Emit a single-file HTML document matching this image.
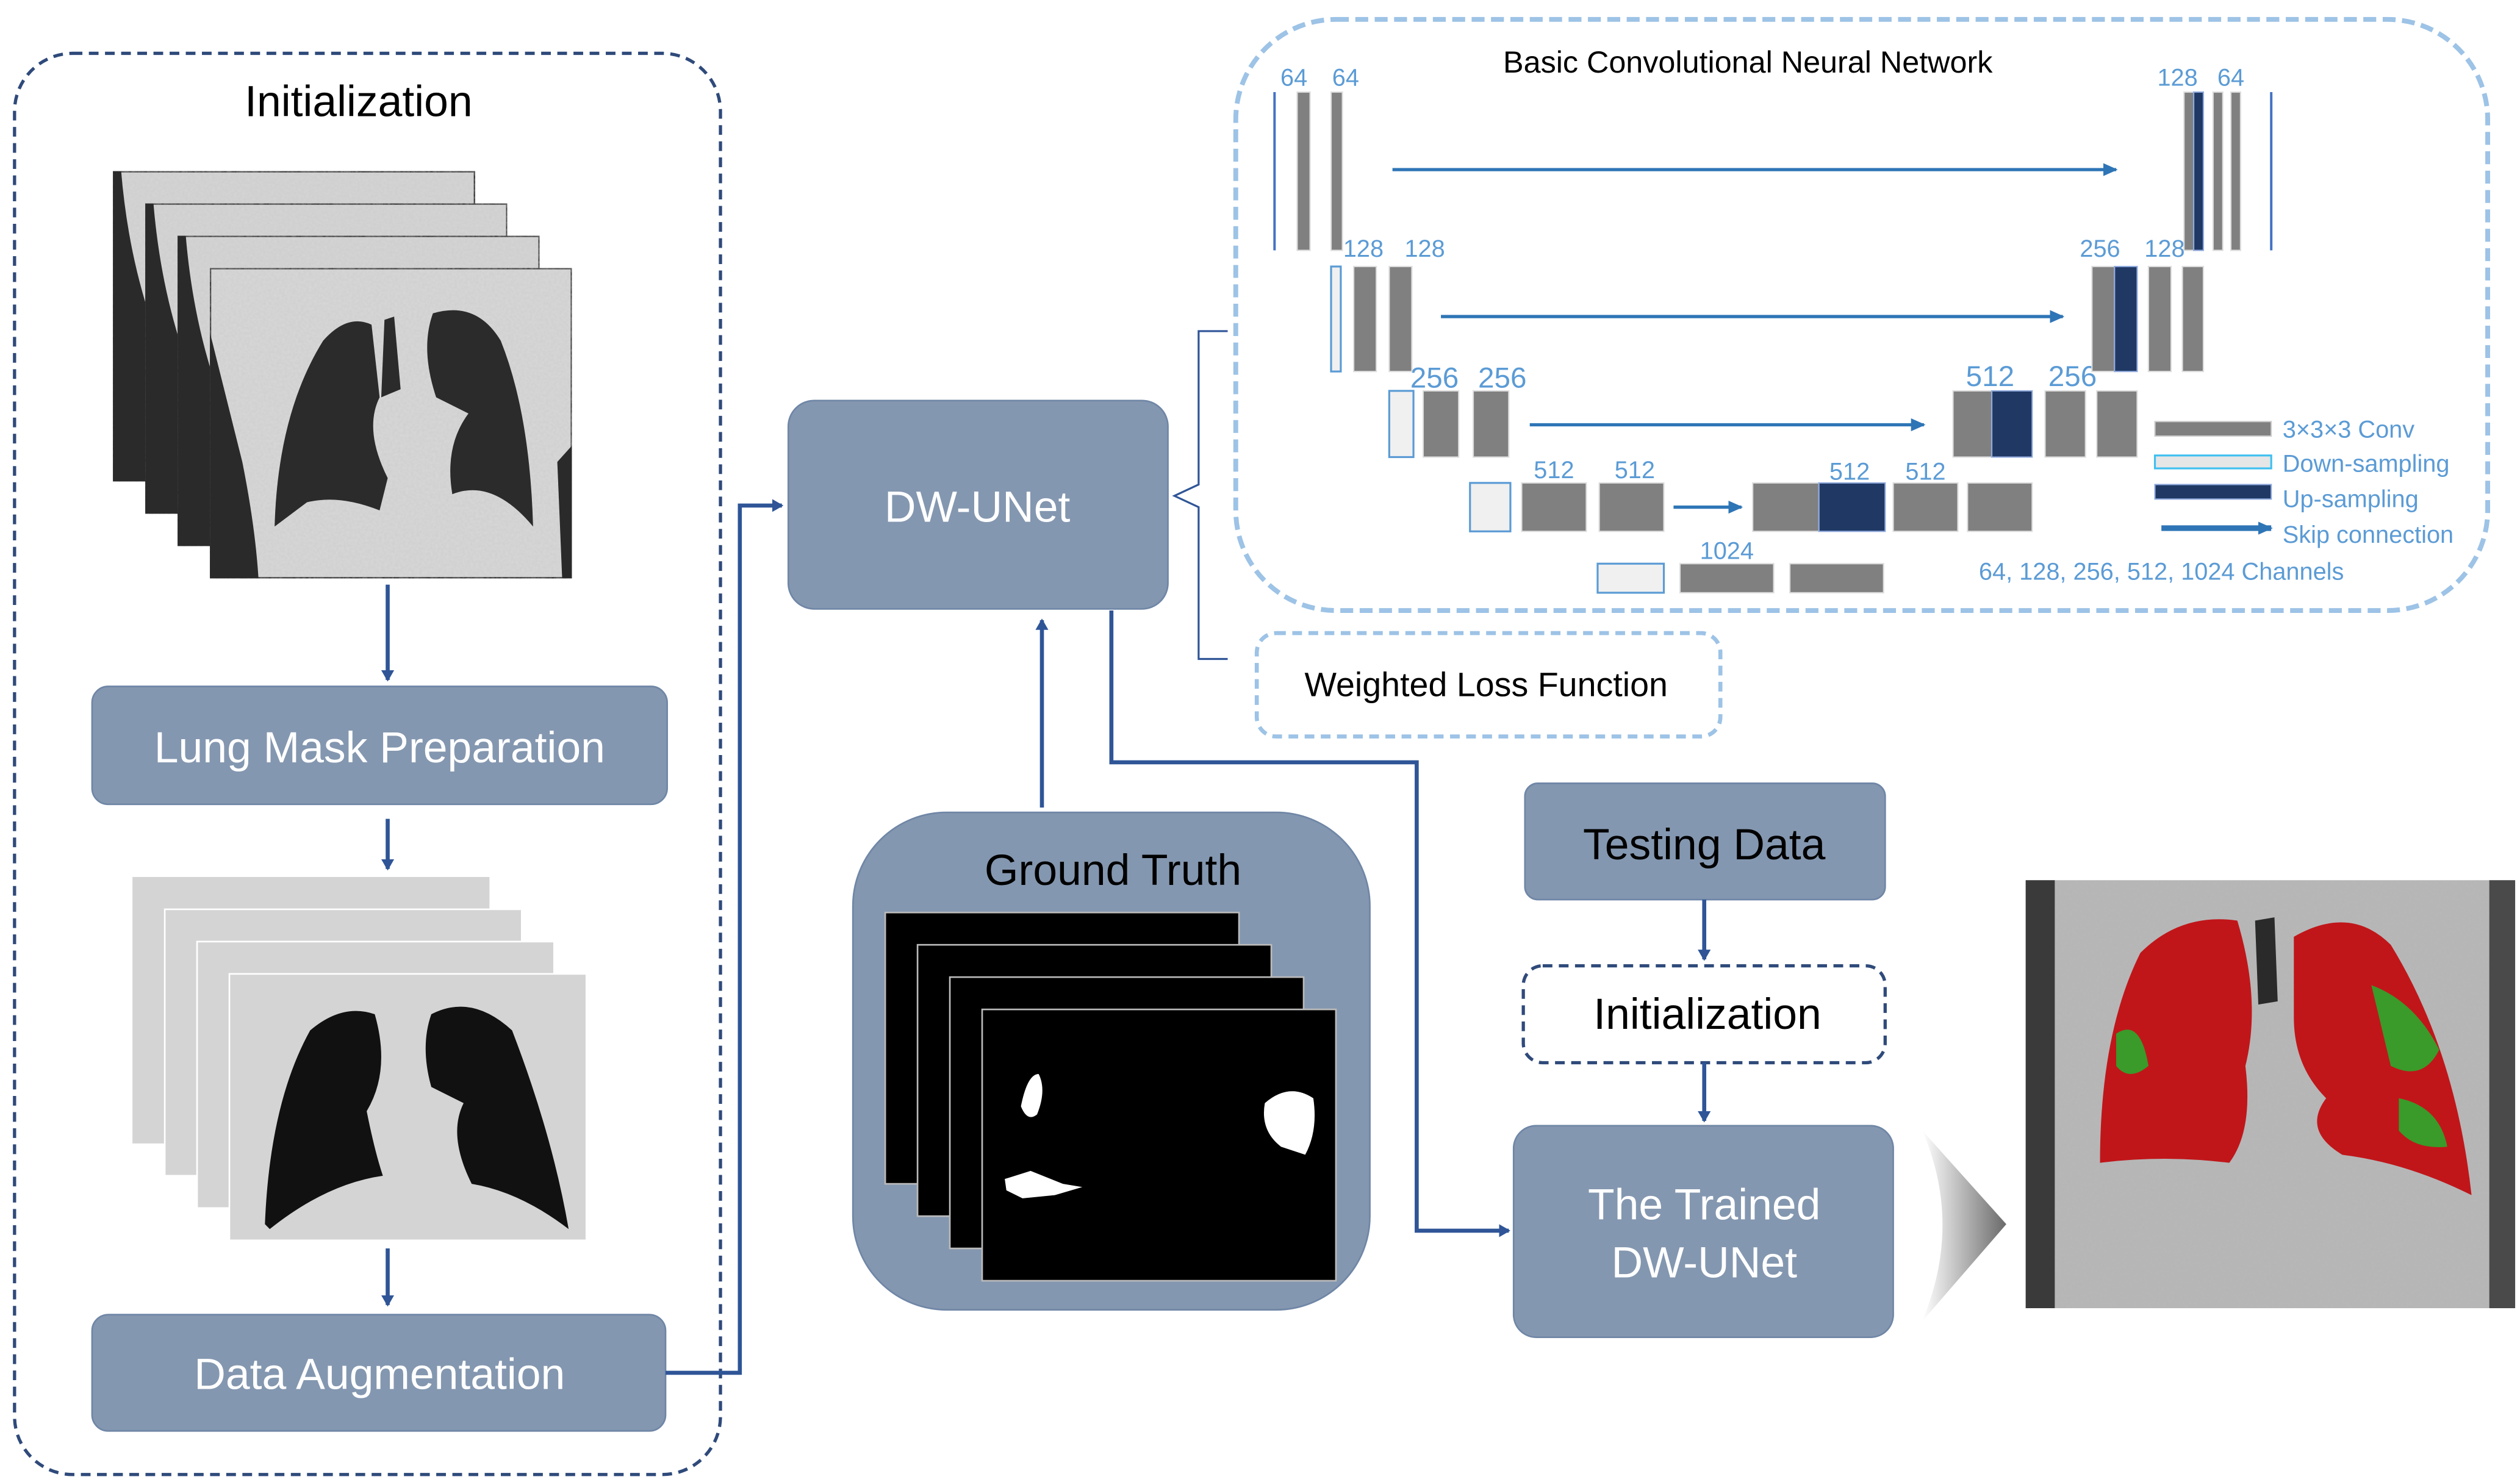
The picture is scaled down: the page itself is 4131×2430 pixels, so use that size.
<!DOCTYPE html>
<html><head><meta charset="utf-8"><style>
html,body{margin:0;padding:0;background:#fff;width:4131px;height:2430px;overflow:hidden}
svg{display:block}
text{font-family:"Liberation Sans","DejaVu Sans",sans-serif}
</style></head><body>
<svg width="4131" height="2430" viewBox="0 0 1560 917.6" xmlns="http://www.w3.org/2000/svg">
<defs>
<marker id="ah" markerWidth="8" markerHeight="8" refX="6" refY="4" orient="auto" markerUnits="userSpaceOnUse"><path d="M0,0 L7,4 L0,8 Z" fill="#2f5597"/></marker>
<marker id="ab" markerWidth="10" markerHeight="10" refX="8" refY="4" orient="auto" markerUnits="userSpaceOnUse"><path d="M0,0 L9,4 L0,8 Z" fill="#2e75b6"/></marker>
<filter id="nz" x="0" y="0" width="100%" height="100%">
<feTurbulence type="fractalNoise" baseFrequency="0.6" numOctaves="2" seed="3" result="t"/>
<feColorMatrix in="t" type="matrix" values="0 0 0 0 0.5  0 0 0 0 0.5  0 0 0 0 0.5  0 0 0 0.35 0" result="n"/>
<feComposite in="n" in2="SourceGraphic" operator="in" result="m"/>
<feMerge><feMergeNode in="SourceGraphic"/><feMergeNode in="m"/></feMerge>
</filter>
<g id="ct">
<rect x="0" y="0" width="224" height="192" fill="#d6d6d6" stroke="#111" stroke-width="1.5" filter="url(#nz)"/>
<path d="M0,0 L5,0 Q10,60 30,110 Q45,150 50,192 L0,192 Z" fill="#2a2a2a"/>
</g>
<g id="mask"><rect x="0" y="0" width="221" height="165" fill="#d4d4d4"/></g>
<g id="gt"><rect x="0" y="0" width="219" height="168" fill="#000" stroke="#bbb" stroke-width="1"/></g>
</defs>

<rect x="9" y="33" width="437" height="880" rx="36" fill="none" stroke="#2f4a7a" stroke-width="2" stroke-dasharray="6,4"/>
<text x="222" y="72" font-size="27" text-anchor="middle" fill="#000">Initialization</text>

<use href="#ct" x="70" y="106"/>
<use href="#ct" x="90" y="126"/>
<use href="#ct" x="110" y="146"/>
<g transform="translate(130,166)">
<rect x="0" y="0" width="224" height="192" fill="#d8d8d8" stroke="#111" stroke-width="1.5" filter="url(#nz)"/>
<path d="M0,40 Q10,80 20,120 Q28,160 30,192 L0,192 Z" fill="#2a2a2a"/>
<path d="M215,120 L224,110 L224,192 L218,192 Z" fill="#2a2a2a"/>
<path d="M40,160 Q42,90 70,45 Q85,28 100,35 L105,80 Q95,100 110,130 L105,150 Q80,140 60,145 Z" fill="#2b2b2b"/>
<path d="M138,28 Q165,20 180,45 Q198,90 200,160 Q175,130 150,140 Q145,110 160,90 L140,80 Q130,50 138,28 Z" fill="#2b2b2b"/>
<path d="M108,32 L114,30 L118,75 L106,80 Z" fill="#2b2b2b"/>
</g>

<line x1="240" y1="362" x2="240" y2="421" stroke="#2f5597" stroke-width="2.5" marker-end="url(#ah)"/>
<rect x="57" y="425" width="356" height="73" rx="10" fill="#8497b0" stroke="#6f86a6" stroke-width="1"/>
<text x="235" y="472" font-size="27" text-anchor="middle" fill="#fff">Lung Mask Preparation</text>
<line x1="240" y1="507" x2="240" y2="538" stroke="#2f5597" stroke-width="2.5" marker-end="url(#ah)"/>

<use href="#mask" x="82" y="543"/>
<rect x="102" y="563" width="221" height="165" fill="#d4d4d4" stroke="#fff" stroke-width="1"/>
<rect x="122" y="583" width="221" height="165" fill="#d4d4d4" stroke="#fff" stroke-width="1"/>
<g transform="translate(142,603)">
<rect x="0" y="0" width="221" height="165" fill="#d4d4d4" stroke="#fff" stroke-width="1"/>
<path d="M22,155 Q25,80 50,35 Q70,18 90,25 Q100,60 85,85 Q90,110 95,125 Q60,130 25,158 Z" fill="#111"/>
<path d="M125,25 Q150,12 175,35 Q200,100 210,158 Q180,135 150,130 Q135,100 145,80 L125,70 Q118,45 125,25 Z" fill="#111"/>
</g>
<line x1="240" y1="773" x2="240" y2="808" stroke="#2f5597" stroke-width="2.5" marker-end="url(#ah)"/>
<rect x="57" y="814" width="355" height="72" rx="10" fill="#8497b0" stroke="#6f86a6" stroke-width="1"/>
<text x="235" y="860" font-size="27" text-anchor="middle" fill="#fff">Data Augmentation</text>

<polyline points="412,850 458,850 458,313 484,313" fill="none" stroke="#2f5597" stroke-width="2.5" marker-end="url(#ah)"/>

<rect x="488" y="248" width="235" height="129" rx="16" fill="#8497b0" stroke="#6f86a6" stroke-width="1"/>
<text x="605" y="323" font-size="27" text-anchor="middle" fill="#fff">DW-UNet</text>

<rect x="528" y="503" width="320" height="308" rx="58" fill="#8497b0" stroke="#6f86a6" stroke-width="1"/>
<text x="689" y="548" font-size="27" text-anchor="middle" fill="#000">Ground Truth</text>
<use href="#gt" x="548" y="565"/>
<use href="#gt" x="568" y="585"/>
<use href="#gt" x="588" y="605"/>
<g transform="translate(608,625)">
<rect x="0" y="0" width="219" height="168" fill="#000" stroke="#bbb" stroke-width="1"/>
<path d="M24,60 Q28,40 35,40 Q40,50 34,65 Q28,70 24,60 Z" fill="#fff"/>
<path d="M14,105 L30,100 L50,108 L62,110 L45,115 L25,117 L15,112 Z" fill="#fff"/>
<path d="M175,58 Q190,45 205,55 Q208,75 200,90 L185,85 Q172,75 175,58 Z" fill="#fff"/>
</g>
<line x1="645" y1="500" x2="645" y2="384" stroke="#2f5597" stroke-width="2.5" marker-end="url(#ah)"/>

<polyline points="688,378 688,472 877,472 877,762 934,762" fill="none" stroke="#2f5597" stroke-width="2.5" marker-end="url(#ah)"/>

<path d="M760,205 L742,205 L742,300 L727,307 L742,314 L742,408 L760,408" fill="none" stroke="#2f5597" stroke-width="1.2"/>

<rect x="765" y="12" width="775" height="366" rx="62" fill="none" stroke="#9dc3e6" stroke-width="3" stroke-dasharray="8,4"/>
<text x="1082" y="45" font-size="19" text-anchor="middle" fill="#000">Basic Convolutional Neural Network</text>
<g font-size="15" fill="#5b9bd5" text-anchor="middle">
<text x="801" y="53">64</text><text x="833" y="53">64</text>
<text x="1348" y="53">128</text><text x="1381" y="53">64</text>
<text x="844" y="159">128</text><text x="882" y="159">128</text>
<text x="1300" y="159">256</text><text x="1340" y="159">128</text>
<text x="888" y="240" font-size="18">256</text><text x="930" y="240" font-size="18">256</text>
<text x="1232" y="239" font-size="18">512</text><text x="1283" y="239" font-size="18">256</text>
<text x="962" y="296">512</text><text x="1012" y="296">512</text>
<text x="1145" y="297">512</text><text x="1192" y="297">512</text>
<text x="1069" y="346">1024</text>
</g>
<g fill="#808080" stroke="#ddd" stroke-width="0.8">
<rect x="803" y="57" width="8" height="98"/><rect x="824" y="57" width="7" height="98"/>
<rect x="1352" y="57" width="6" height="98"/><rect x="1370" y="57" width="6" height="98"/><rect x="1381" y="57" width="6" height="98"/>
<rect x="838" y="165" width="14" height="65"/><rect x="860" y="165" width="14" height="65"/>
<rect x="1295" y="165" width="14" height="65"/><rect x="1330" y="165" width="14" height="65"/><rect x="1351" y="165" width="13" height="65"/>
<rect x="881" y="242" width="22" height="41"/><rect x="912" y="242" width="22" height="41"/>
<rect x="1209" y="242" width="24" height="41"/><rect x="1266" y="242" width="25" height="41"/><rect x="1298" y="242" width="25" height="41"/>
<rect x="942" y="299" width="40" height="30"/><rect x="990" y="299" width="40" height="30"/>
<rect x="1085" y="299" width="41" height="30"/><rect x="1172" y="299" width="40" height="30"/><rect x="1218" y="299" width="40" height="30"/>
<rect x="1040" y="349" width="58" height="18"/><rect x="1108" y="349" width="58" height="18"/>
</g>
<g fill="#203864" stroke="#8faadc" stroke-width="0.8">
<rect x="1358" y="57" width="6" height="98"/>
<rect x="1309" y="165" width="14" height="65"/>
<rect x="1233" y="242" width="25" height="41"/>
<rect x="1126" y="299" width="41" height="30"/>
</g>
<g fill="#f0f0f0" stroke="#5b9bd5" stroke-width="1.2">
<rect x="824" y="165" width="6" height="65"/>
<rect x="860" y="242" width="15" height="41"/>
<rect x="910" y="299" width="25" height="30"/>
<rect x="989" y="349" width="41" height="18"/>
</g>
<line x1="789" y1="57" x2="789" y2="155" stroke="#4472c4" stroke-width="1.5"/>
<line x1="1406" y1="57" x2="1406" y2="155" stroke="#4472c4" stroke-width="1.5"/>
<g stroke="#2e75b6" stroke-width="2" fill="none">
<line x1="862" y1="105" x2="1310" y2="105" marker-end="url(#ab)"/>
<line x1="892" y1="196" x2="1277" y2="196" marker-end="url(#ab)"/>
<line x1="947" y1="263" x2="1191" y2="263" marker-end="url(#ab)"/>
<line x1="1036" y1="314" x2="1078" y2="314" marker-end="url(#ab)"/>
<line x1="1338" y1="327" x2="1406" y2="327" stroke-width="3.5" marker-end="url(#ab)"/>
</g>
<rect x="1334" y="261" width="72" height="9" fill="#808080" stroke="#ccc" stroke-width="0.8"/>
<rect x="1334" y="282" width="72" height="8" fill="#e6e6e6" stroke="#3fc0f0" stroke-width="1.2"/>
<rect x="1334" y="300" width="72" height="9" fill="#203864" stroke="#8faadc" stroke-width="0.8"/>
<g font-size="15" fill="#5b9bd5">
<text x="1413" y="271">3×3×3 Conv</text>
<text x="1413" y="292">Down-sampling</text>
<text x="1413" y="314">Up-sampling</text>
<text x="1413" y="336">Skip connection</text>
<text x="1225" y="359">64, 128, 256, 512, 1024  Channels</text>
</g>

<rect x="778" y="392" width="287" height="64" rx="12" fill="none" stroke="#9dc3e6" stroke-width="2.5" stroke-dasharray="6,4"/>
<text x="920" y="431" font-size="21" text-anchor="middle" fill="#000">Weighted Loss Function</text>

<rect x="944" y="485" width="223" height="72" rx="8" fill="#8497b0" stroke="#6f86a6" stroke-width="1"/>
<text x="1055" y="532" font-size="27" text-anchor="middle" fill="#000">Testing Data</text>
<line x1="1055" y1="557" x2="1055" y2="594" stroke="#2f5597" stroke-width="2.5" marker-end="url(#ah)"/>
<rect x="943" y="598" width="224" height="60" rx="12" fill="none" stroke="#2f4a7a" stroke-width="2" stroke-dasharray="6,4"/>
<text x="1057" y="637" font-size="27" text-anchor="middle" fill="#000">Initialization</text>
<line x1="1055" y1="658" x2="1055" y2="694" stroke="#2f5597" stroke-width="2.5" marker-end="url(#ah)"/>
<rect x="937" y="697" width="235" height="131" rx="14" fill="#8497b0" stroke="#6f86a6" stroke-width="1"/>
<text x="1055" y="755" font-size="27" text-anchor="middle" fill="#fff">The Trained</text>
<text x="1055" y="791" font-size="27" text-anchor="middle" fill="#fff">DW-UNet</text>

<defs><linearGradient id="cg" x1="0" x2="1"><stop offset="0" stop-color="#fff"/><stop offset="1" stop-color="#6a6a6a"/></linearGradient></defs>
<path d="M1190,700 L1242,758 L1190,818 Q1215,758 1190,700 Z" fill="url(#cg)"/>

<rect x="1254" y="545" width="303" height="265" fill="#b5b5b5" filter="url(#nz)"/>
<rect x="1254" y="545" width="18" height="265" fill="#3a3a3a"/>
<rect x="1541" y="545" width="16" height="265" fill="#4a4a4a"/>
<path d="M1300,720 Q1300,640 1325,590 Q1350,565 1385,570 Q1400,620 1390,660 Q1395,700 1380,720 Q1340,715 1300,720 Z" fill="#c0161a"/>
<path d="M1420,580 Q1455,560 1480,585 Q1520,650 1530,740 Q1490,720 1450,715 Q1425,700 1440,680 Q1420,660 1420,630 Z" fill="#c0161a"/>
<path d="M1468,610 Q1495,620 1510,650 Q1500,670 1480,660 Z M1485,680 Q1510,685 1515,710 Q1495,712 1485,700 Z M1310,640 Q1325,630 1330,660 Q1318,670 1310,660 Z" fill="#3a9a2a"/>
<path d="M1396,570 L1408,568 L1410,620 L1398,622 Z" fill="#2a2a2a"/>
</svg>
</body></html>
